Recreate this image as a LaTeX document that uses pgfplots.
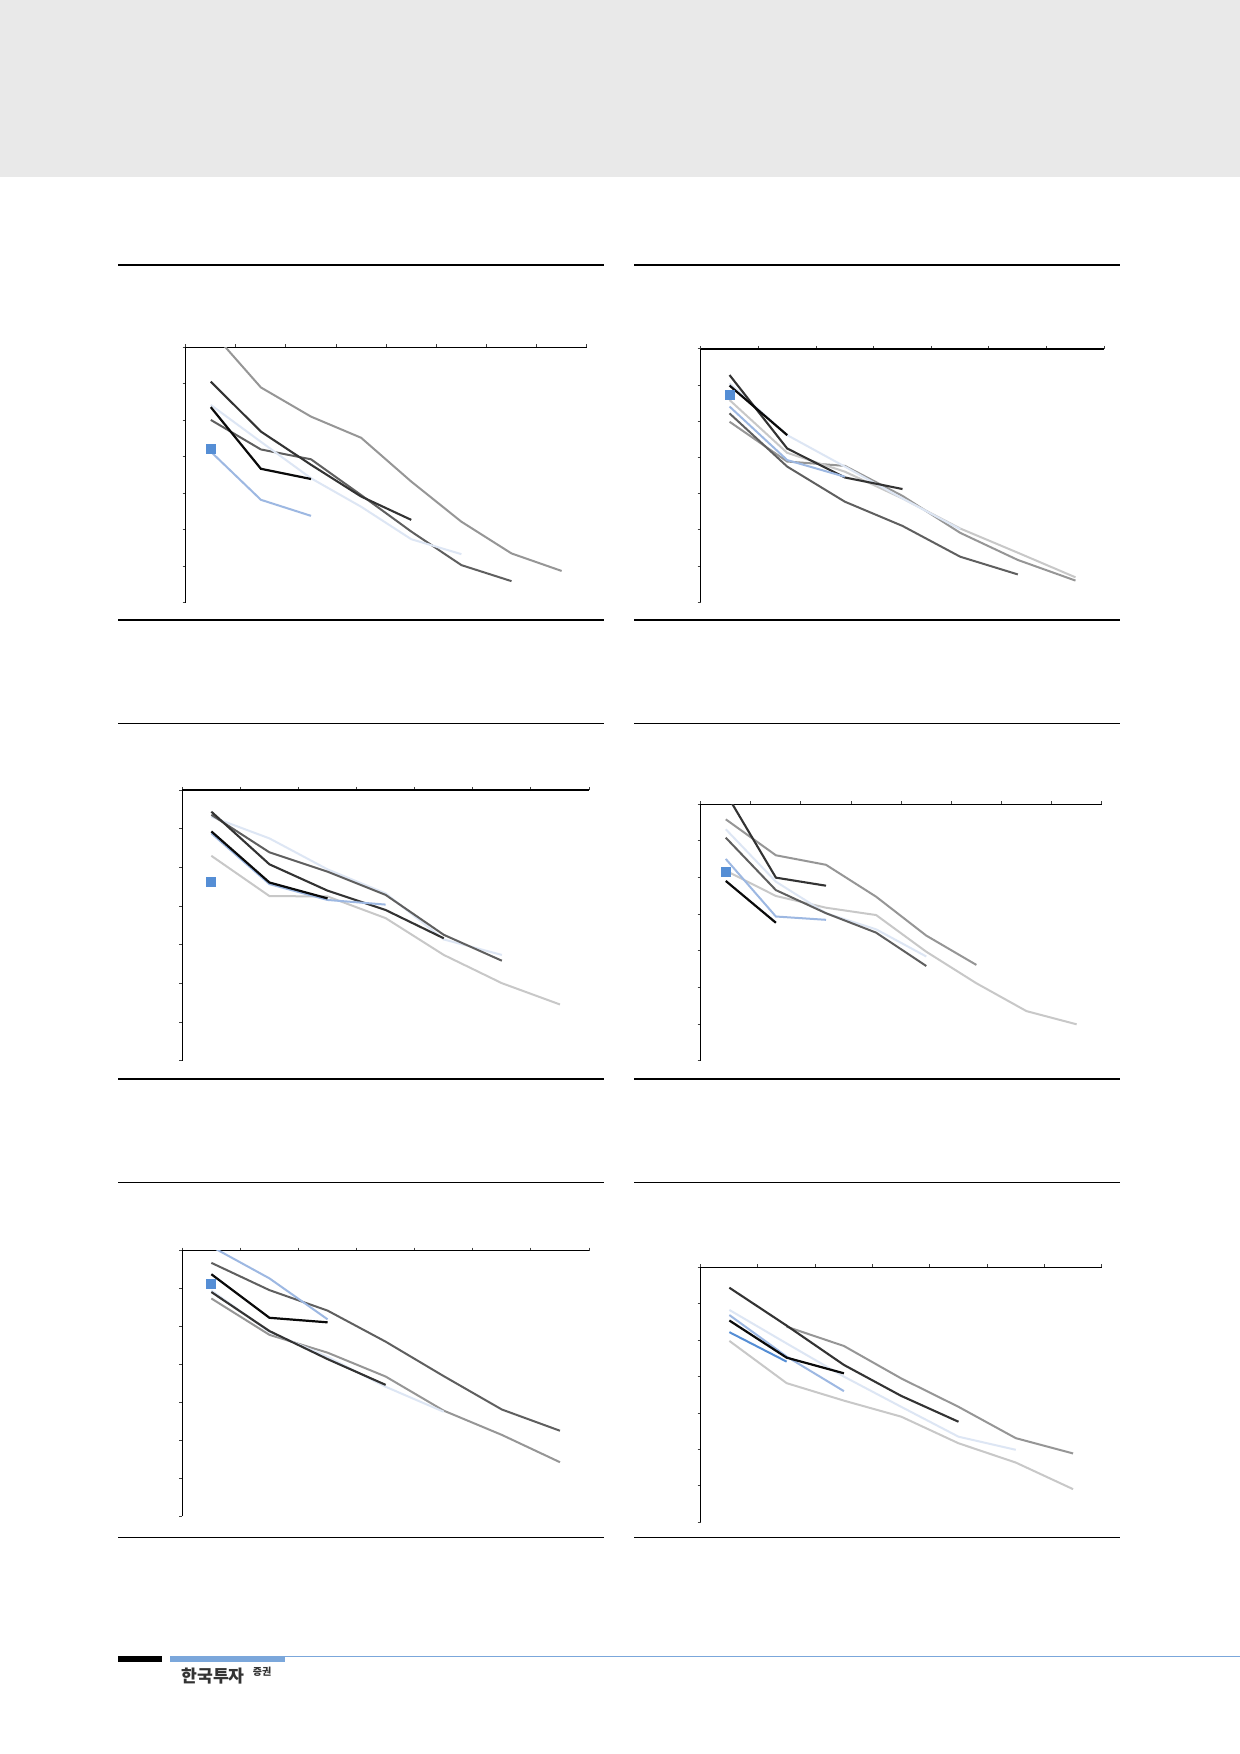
\documentclass[border=0pt]{standalone}
\usepackage{pgfplots}
\pgfplotsset{compat=1.18}
\usepackage{fontspec}
\newfontfamily\kr{Noto Sans CJK KR}
\definecolor{cDark}{HTML}{333333}
\definecolor{cBlack}{HTML}{0A0A0A}
\definecolor{cDG}{HTML}{5F5F5F}
\definecolor{cMG}{HTML}{969696}
\definecolor{cLG}{HTML}{C8C8C8}
\definecolor{cLB}{HTML}{9DB8E2}
\definecolor{cVLB}{HTML}{DDE6F4}
\definecolor{cB}{HTML}{558ED5}
\definecolor{band}{HTML}{E9E9E9}
\definecolor{footblue}{HTML}{7BA7DB}
\pgfplotsset{
  pg/.style={scale only axis, anchor=north west, xmin=0, ymin=0, ymax=7,
    axis x line=top, axis y line=left,
    axis line style={-, line width=0.6pt, black},
    xtick={0,...,8}, ytick={0,...,7}, xticklabels={}, yticklabels={},
    tick align=outside, major tick length=1.6pt,
    tick style={line width=0.5pt, black!75},
    every axis plot/.append style={line width=1pt, mark=none}},
  sDark/.style={cDark, line width=1.05pt},
  sBlack/.style={cBlack, line width=1.1pt},
  sDG/.style={cDG},
  sMG/.style={cMG},
  sLG/.style={cLG},
  sLB/.style={cLB},
  sVLB/.style={cVLB},
  sMark/.style={only marks, mark=square*, mark size=2pt, mark options={fill=cB, draw=cB}},
}
\begin{document}
\begin{tikzpicture}
\path[use as bounding box, fill=white] (0,0) rectangle (620pt,-877pt);
\begin{scope}[x=0.5pt, y=-0.5pt]
  \fill[band] (0,0) rectangle (1240,176.7);
  % rules
  \foreach \xa/\xb in {118/604, 634/1120} {
    \draw[line width=1pt] (\xa,264.7) -- (\xb,264.7);
    \draw[line width=0.85pt] (\xa,620) -- (\xb,620);
    \draw[line width=0.65pt] (\xa,723.3) -- (\xb,723.3);
    \draw[line width=0.65pt] (\xa,1079) -- (\xb,1079);
    \draw[line width=0.65pt] (\xa,1182.3) -- (\xb,1182.3);
    \draw[line width=0.65pt] (\xa,1537.7) -- (\xb,1537.7);
  }
  % footer
  \fill[black] (118,1656) rectangle (162,1662);
  \fill[footblue] (170,1656) rectangle (285,1662);
  \fill[footblue] (285,1656) rectangle (1240,1657.2);
  \node[anchor=base west, inner sep=0pt, text=black!80] at (181,1682) {\kr\bfseries\fontsize{8.6pt}{9pt}\selectfont 한국투자};
  \node[anchor=base west, inner sep=0pt, text=black!80] at (252.5,1675.5) {\kr\bfseries\fontsize{5pt}{5.5pt}\selectfont 증권};
\end{scope}

% Chart 1
\begin{axis}[pg, at={(0.5*185.7pt,-0.5*347.3pt)}, width=200.5pt, height=127.7pt, xmax=8]
\addplot[sMG] coordinates {(0.5,7.46)(1.5,5.90)(2.5,5.10)(3.5,4.52)(4.5,3.32)(5.5,2.22)(6.5,1.35)(7.5,0.87)};
\addplot[sDG] coordinates {(0.5,5.01)(1.5,4.20)(2.5,3.93)(3.5,2.95)(4.5,1.95)(5.5,1.03)(6.5,0.59)};
\addplot[sVLB] coordinates {(0.5,5.42)(1.5,4.41)(2.5,3.41)(3.5,2.63)(4.5,1.74)(5.5,1.33)};
\addplot[sDark] coordinates {(0.5,6.06)(1.5,4.69)(2.5,3.78)(3.5,2.91)(4.5,2.27)};
\addplot[sBlack] coordinates {(0.5,5.36)(1.5,3.67)(2.5,3.39)};
\addplot[sLB] coordinates {(0.5,4.14)(1.5,2.82)(2.5,2.38)};
\addplot[sMark] coordinates {(0.5,4.21)};
\end{axis}

% Chart 2
\begin{axis}[pg, at={(0.5*700.7pt,-0.5*349pt)}, width=201.8pt, height=126.65pt, xmax=7]
\addplot[sMG] coordinates {(0.5,4.99)(1.5,3.89)(2.5,3.77)(3.5,2.94)(4.5,1.92)(5.5,1.17)(6.5,0.60)};
\addplot[sLG] coordinates {(0.5,5.59)(1.5,4.13)(2.5,3.61)(3.5,2.87)(4.5,2.04)(5.5,1.37)(6.5,0.69)};
\addplot[sDG] coordinates {(0.5,5.22)(1.5,3.75)(2.5,2.78)(3.5,2.11)(4.5,1.26)(5.5,0.77)};
\addplot[sVLB] coordinates {(0.5,6.05)(1.5,4.62)(2.5,3.75)(3.5,2.87)(4.5,2.02)};
\addplot[sDark] coordinates {(0.5,6.28)(1.5,4.25)(2.5,3.45)(3.5,3.13)};
\addplot[sLB] coordinates {(0.5,5.41)(1.5,3.93)(2.5,3.47)};
\addplot[sBlack] coordinates {(0.5,5.99)(1.5,4.62)};
\addplot[sMark] coordinates {(0.5,5.73)};
\end{axis}

% Chart 3
\begin{axis}[pg, at={(0.5*182.3pt,-0.5*790pt)}, width=203.35pt, height=135.5pt, xmax=7]
\addplot[sLG] coordinates {(0.5,5.30)(1.5,4.26)(2.5,4.25)(3.5,3.69)(4.5,2.74)(5.5,2.01)(6.5,1.46)};
\addplot[sVLB] coordinates {(0.5,6.31)(1.5,5.75)(2.5,4.95)(3.5,4.33)(4.5,3.14)(5.5,2.74)};
\addplot[sDG] coordinates {(0.5,6.36)(1.5,5.39)(2.5,4.89)(3.5,4.29)(4.5,3.26)(5.5,2.59)};
\addplot[sDark] coordinates {(0.5,6.44)(1.5,5.08)(2.5,4.40)(3.5,3.90)(4.5,3.17)};
\addplot[sLB] coordinates {(0.5,5.88)(1.5,4.57)(2.5,4.16)(3.5,4.04)};
\addplot[sBlack] coordinates {(0.5,5.93)(1.5,4.61)(2.5,4.20)};
\addplot[sMark] coordinates {(0.5,4.63)};
\end{axis}

% Chart 4
\begin{axis}[pg, at={(0.5*700.7pt,-0.5*804.3pt)}, width=200.5pt, height=128.35pt, xmax=8]
\addplot[sLG] coordinates {(0.5,5.19)(1.5,4.5)(2.5,4.18)(3.5,3.98)(4.5,2.98)(5.5,2.12)(6.5,1.36)(7.5,1.0)};
\addplot[sMG] coordinates {(0.5,6.59)(1.5,5.61)(2.5,5.35)(3.5,4.48)(4.5,3.42)(5.5,2.62)};
\addplot[sVLB] coordinates {(0.5,6.32)(1.5,4.89)(2.5,4.03)(3.5,3.59)(4.5,2.85)};
\addplot[sDG] coordinates {(0.5,6.09)(1.5,4.66)(2.5,4.03)(3.5,3.5)(4.5,2.59)};
\addplot[sDark] coordinates {(0.5,7.31)(1.5,5.0)(2.5,4.78)};
\addplot[sLB] coordinates {(0.5,5.51)(1.5,3.94)(2.5,3.85)};
\addplot[sBlack] coordinates {(0.5,4.91)(1.5,3.77)};
\addplot[sMark] coordinates {(0.5,5.16)};
\end{axis}

% Chart 5
\begin{axis}[pg, at={(0.5*182.3pt,-0.5*1250.7pt)}, width=203.35pt, height=132.65pt, xmax=7]
\addplot[sMG] coordinates {(0.5,5.74)(1.5,4.78)(2.5,4.31)(3.5,3.68)(4.5,2.78)(5.5,2.14)(6.5,1.42)};
\addplot[sDG] coordinates {(0.5,6.68)(1.5,5.96)(2.5,5.42)(3.5,4.60)(4.5,3.69)(5.5,2.81)(6.5,2.25)};
\addplot[sVLB] coordinates {(0.5,5.95)(1.5,4.86)(2.5,4.2)(3.5,3.41)(4.5,2.75)};
\addplot[sDark] coordinates {(0.5,5.91)(1.5,4.88)(2.5,4.14)(3.5,3.46)};
\addplot[sLB] coordinates {(0.5,7.11)(1.5,6.27)(2.5,5.19)};
\addplot[sBlack] coordinates {(0.5,6.38)(1.5,5.23)(2.5,5.11)};
\addplot[sMark] coordinates {(0.5,6.12)};
\end{axis}

% Chart 6
\begin{axis}[pg, at={(0.5*700.7pt,-0.5*1267.3pt)}, width=200.5pt, height=127.5pt, xmax=7]
\addplot[sLG] coordinates {(0.5,4.98)(1.5,3.82)(2.5,3.34)(3.5,2.90)(4.5,2.17)(5.5,1.64)(6.5,0.91)};
\addplot[sMG] coordinates {(1.5,5.37)(2.5,4.84)(3.5,3.95)(4.5,3.17)(5.5,2.31)(6.5,1.89)};
\addplot[sVLB] coordinates {(0.5,5.83)(1.5,4.91)(2.5,4.0)(3.5,3.17)(4.5,2.35)(5.5,1.99)};
\addplot[sDark] coordinates {(0.5,6.44)(1.5,5.40)(2.5,4.32)(3.5,3.47)(4.5,2.76)};
\addplot[sLB] coordinates {(0.5,5.69)(1.5,4.55)(2.5,3.60)};
\addplot[sBlack] coordinates {(0.5,5.54)(1.5,4.52)(2.5,4.09)};
\addplot[cB, line width=1pt] coordinates {(0.5,5.22)(1.5,4.41)};
\end{axis}
\end{tikzpicture}
\end{document}
